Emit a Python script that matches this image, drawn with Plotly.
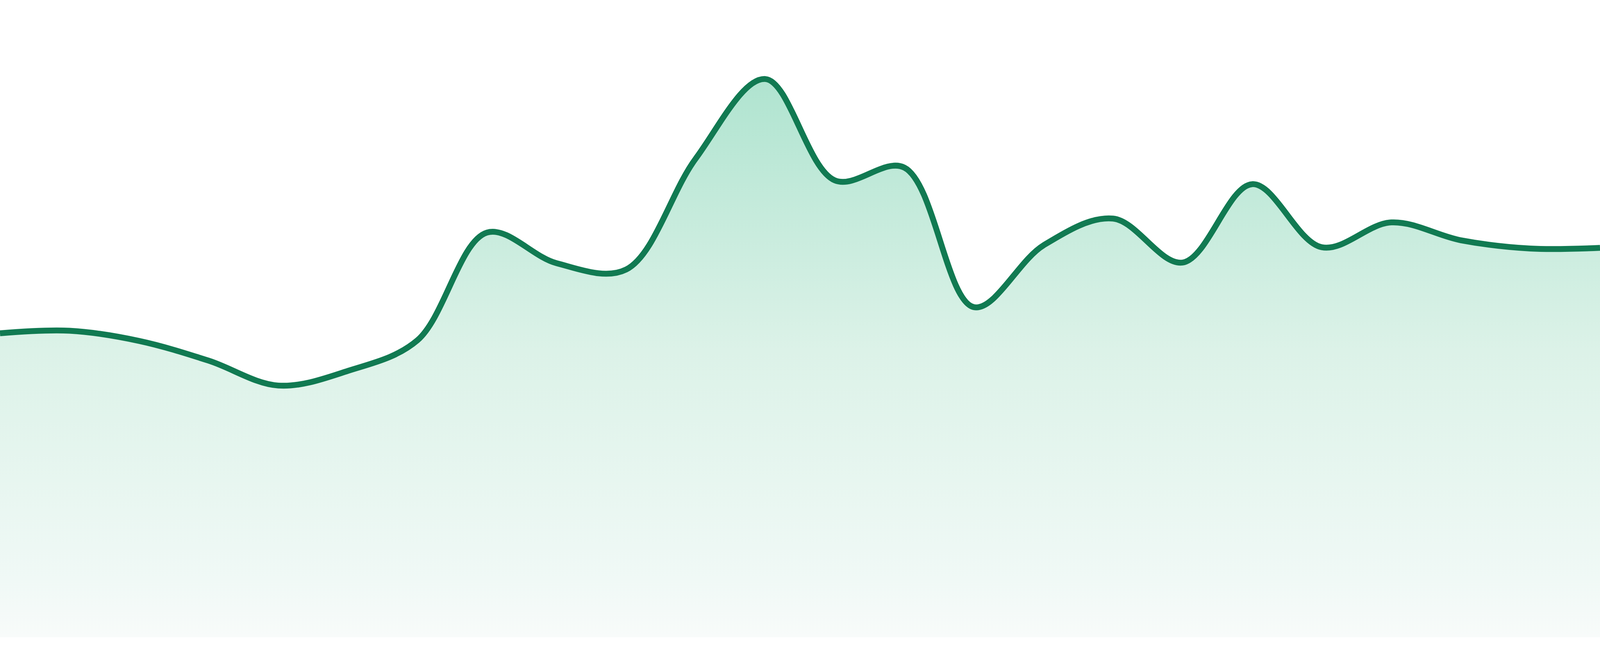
import plotly.graph_objects as go

# 24 evenly spaced samples
periods = list(range(24))
values = [47.7, 48.1, 46.5, 43.4, 39.5, 41.8, 46.6, 63.5, 58.7, 57.7, 75.1, 87.6,
          71.7, 73.7, 51.8, 61.5, 65.7, 58.8, 71.1, 61.2, 65.1, 62.3, 61.0, 61.1]

line_color = "#117a52"

fig = go.Figure()
fig.add_trace(go.Scatter(
    x=periods,
    y=values,
    mode="lines",
    line=dict(color=line_color, width=15, shape="spline", smoothing=1.0),
    fill="tozeroy",
    fillgradient=dict(
        type="vertical",
        start=0,
        stop=100,
        colorscale=[
            [0.0, "rgb(248,251,250)"],
            [0.09, "rgb(240,249,246)"],
            [0.45, "rgb(220,242,232)"],
            [0.87, "rgb(176,228,208)"],
            [1.0, "rgb(165,224,200)"],
        ],
    ),
    hoverinfo="skip",
))

fig.update_layout(
    autosize=True,
    margin=dict(l=0, r=0, t=0, b=48),
    paper_bgcolor="white",
    plot_bgcolor="white",
    showlegend=False,
    xaxis=dict(range=[0, 23], visible=False, fixedrange=True),
    yaxis=dict(range=[0, 100], visible=False, fixedrange=True),
)

# fill the whole window, no page margin or scrollbars
fig.write_html(
    "out.html",
    default_width="100vw",
    default_height="100vh",
    config={"responsive": True, "displayModeBar": False},
    post_script="document.body.style.margin='0';document.body.style.overflow='hidden';",
)
